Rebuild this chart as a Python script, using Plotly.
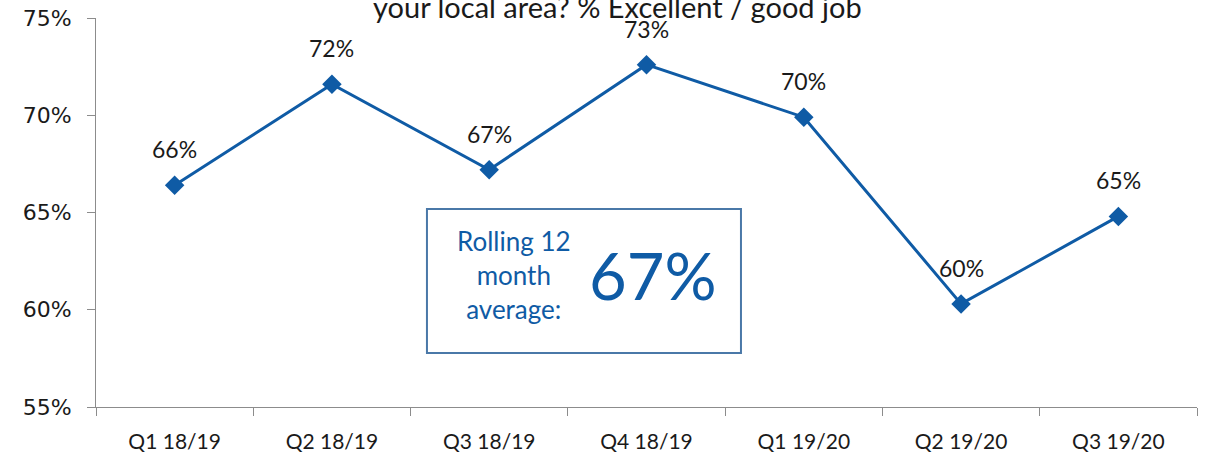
import plotly.graph_objects as go

quarters = ["Q1 18/19", "Q2 18/19", "Q3 18/19", "Q4 18/19", "Q1 19/20", "Q2 19/20", "Q3 19/20"]
pct_good = [66.4, 71.6, 67.2, 72.6, 69.9, 60.3, 64.8]
y_ticks = [55, 60, 65, 70, 75]
rolling_avg = 67

BLUE = "#0f5ba5"
FONT = "Lato"
TEXT = "#1a1a1a"
AXIS = "#8c8c8c"

fig = go.Figure()
fig.add_trace(go.Scatter(
    x=quarters, y=pct_good, mode="lines+markers",
    line=dict(color=BLUE, width=3),
    marker=dict(symbol="diamond", size=15, color=BLUE),
    hoverinfo="skip",
))

# data labels above each point
for q, v in zip(quarters, pct_good):
    fig.add_annotation(x=q, y=v, text=f"{v:.0f}%", showarrow=False,
                       yshift=36, font=dict(family=FONT, size=23, color=TEXT))

# chart title (its first line runs off the top edge)
fig.add_annotation(xref="paper", yref="paper", x=0.474, y=1, yanchor="bottom",
                   yshift=-8, showarrow=False,
                   text="your local area? % Excellent / good job",
                   font=dict(family=FONT, size=29, color=TEXT))

# rolling average callout box
fig.add_shape(type="rect", xref="paper", yref="paper",
              x0=0.3006, x1=0.5858, y0=0.139, y1=0.509,
              line=dict(color="#4a78a8", width=2), fillcolor="white", layer="above")
fig.add_annotation(xref="paper", yref="paper", x=0.3797, y=0.339,
                   xanchor="center", yanchor="middle", showarrow=False,
                   text="Rolling 12<br>month<br>average:", align="center",
                   font=dict(family=FONT, size=26, color=BLUE))
fig.add_annotation(xref="paper", yref="paper", x=0.5059, y=0.339,
                   xanchor="center", yanchor="middle", showarrow=False,
                   text=f"{rolling_avg}%",
                   font=dict(family=FONT, size=65, color=BLUE))

fig.update_layout(
    width=1206, height=455,
    margin=dict(l=96, r=9, t=18, b=48),
    paper_bgcolor="white", plot_bgcolor="white",
    showlegend=False,
    font=dict(family=FONT, size=20, color=TEXT),
)
fig.update_xaxes(
    type="category", range=[-0.5, 6.5], tickson="boundaries",
    showline=True, linecolor=AXIS, linewidth=1,
    ticks="outside", ticklen=8, tickcolor=AXIS,
    ticklabelstandoff=16, automargin=False,
    showgrid=False, zeroline=False,
    tickfont=dict(family=FONT, size=21, color=TEXT),
)
fig.update_yaxes(
    range=[55, 75], tickvals=y_ticks, ticktext=[f"{t}%" for t in y_ticks],
    showline=True, linecolor=AXIS, linewidth=1,
    ticks="outside", ticklen=8, tickcolor=AXIS,
    ticklabelstandoff=11, automargin=False,
    showgrid=False, zeroline=False,
    tickfont=dict(family="DejaVu Sans", size=22, color=TEXT),
)

fig.write_html("out.html")
